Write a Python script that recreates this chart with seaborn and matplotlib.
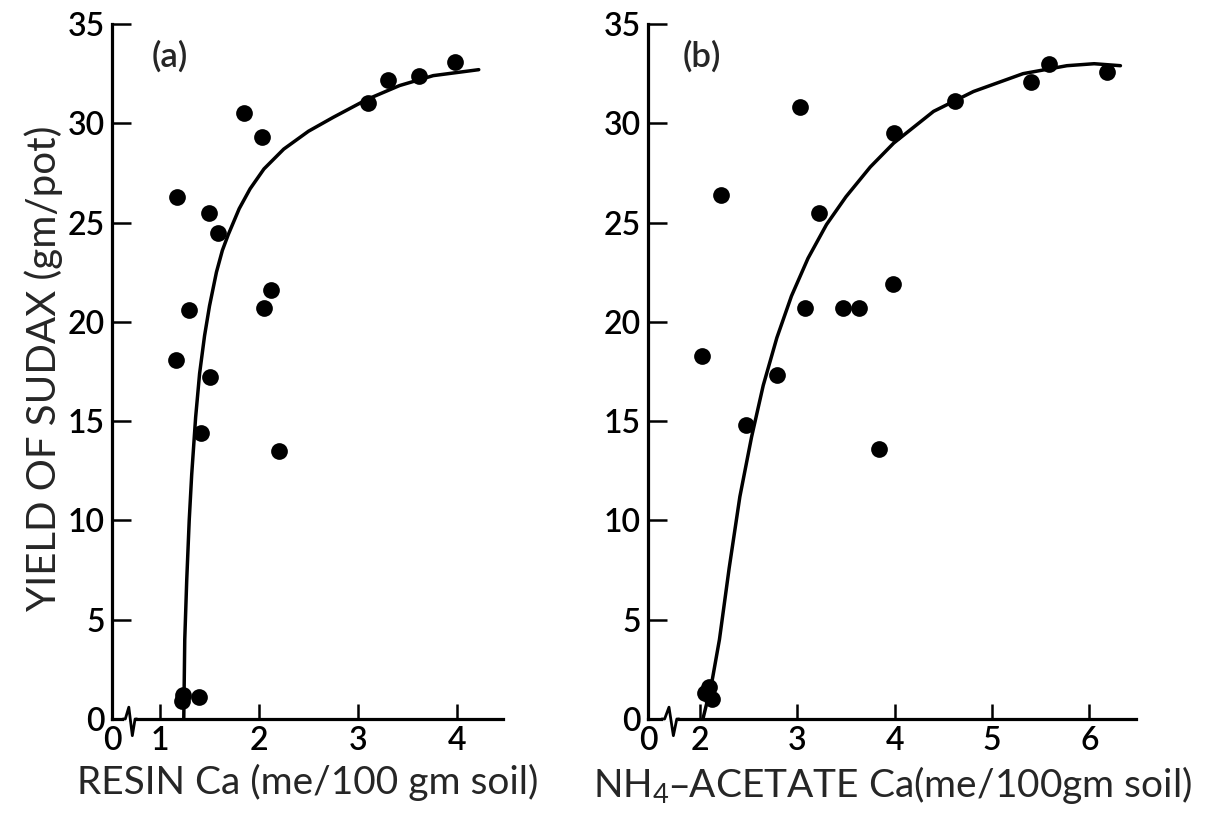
import matplotlib
matplotlib.use("Agg")
import matplotlib.pyplot as plt
import seaborn as sns

# ---- panel (a): resin-extractable Ca ----
resin_ca = [1.16, 1.17, 1.29, 1.41, 1.50, 1.49, 1.59, 1.85, 2.03, 2.05,
            2.12, 2.20, 3.10, 3.30, 3.62, 3.98, 1.235, 1.22, 1.39]
resin_yield = [18.1, 26.3, 20.6, 14.4, 17.2, 25.5, 24.5, 30.5, 29.3, 20.7,
               21.6, 13.5, 31.0, 32.2, 32.4, 33.1, 1.2, 0.9, 1.1]
resin_curve_x = [1.24, 1.245, 1.25, 1.27, 1.295, 1.32, 1.36, 1.40, 1.45,
                 1.50, 1.57, 1.63, 1.69, 1.80, 1.91, 2.05, 2.25, 2.50, 2.75,
                 3.09, 3.42, 3.76, 4.22]
resin_curve_y = [0.0, 2.0, 4.0, 7.0, 10.0, 12.3, 15.2, 17.4, 19.3,
                 20.8, 22.5, 23.6, 24.4, 25.7, 26.7, 27.7, 28.7, 29.6, 30.3,
                 31.2, 31.9, 32.4, 32.7]

# ---- panel (b): NH4-acetate extractable Ca ----
acetate_ca = [2.22, 3.03, 3.22, 3.99, 4.62, 5.40, 5.59, 6.18, 3.08, 3.47,
              3.63, 2.02, 2.79, 2.47, 3.84, 3.98, 2.05, 2.12, 2.09]
acetate_yield = [26.4, 30.8, 25.5, 29.5, 31.1, 32.1, 33.0, 32.6, 20.7, 20.7,
                 20.7, 18.3, 17.3, 14.8, 13.6, 21.9, 1.3, 1.0, 1.6]
acetate_curve_x = [2.03, 2.12, 2.20, 2.30, 2.41, 2.53, 2.65, 2.79, 2.94,
                   3.11, 3.30, 3.50, 3.75, 3.99, 4.40, 4.81, 5.32, 5.77,
                   6.05, 6.32]
acetate_curve_y = [0.0, 1.8, 4.0, 7.6, 11.2, 14.2, 16.8, 19.2, 21.3,
                   23.2, 24.9, 26.3, 27.8, 29.0, 30.6, 31.6, 32.5, 32.9,
                   33.0, 32.9]

y_ticks = [0, 5, 10, 15, 20, 25, 30, 35]

sns.set_style("ticks")
plt.rcParams["font.family"] = ["Lato", "DejaVu Sans"]
plt.rcParams["font.weight"] = "semibold"
plt.rcParams["mathtext.default"] = "regular"

fig = plt.figure(figsize=(12.1, 8.25), dpi=100)
ax_a = fig.add_axes([112 / 1210, 1 - 719 / 825, 391 / 1210, 695 / 825])
ax_b = fig.add_axes([648 / 1210, 1 - 719 / 825, 488 / 1210, 695 / 825])

panels = [
    (ax_a, resin_ca, resin_yield, resin_curve_x, resin_curve_y,
     (0.515, 4.465), [1, 2, 3, 4], "(a)", 0.148,
     "RESIN Ca (me/100 gm soil)"),
    (ax_b, acetate_ca, acetate_yield, acetate_curve_x, acetate_curve_y,
     (1.466, 6.48), [2, 3, 4, 5, 6], "(b)", 0.111,
     r"NH$_4$–ACETATE Ca(me/100gm soil)"),
]

for ax, xs, ys, cx, cy, xlim, xt, tag, tag_x, xlabel in panels:
    sns.lineplot(x=cx, y=cy, ax=ax, color="black", linewidth=2.5,
                 sort=False, estimator=None)
    sns.scatterplot(x=xs, y=ys, ax=ax, color="black", s=145,
                    edgecolor="black", linewidth=0, zorder=3)
    ax.set_xlim(*xlim)
    ax.set_ylim(0, 35)
    sns.despine(ax=ax)
    for side in ("left", "bottom"):
        ax.spines[side].set_linewidth(2.3)
        ax.spines[side].set_color("black")
    ax.set_yticks(y_ticks)
    ax.set_yticklabels([str(v) for v in y_ticks])
    ax.set_xticks(xt)
    ax.set_xticklabels([str(v) for v in xt])
    ax.set_xticks([xlim[0]], minor=True)
    ax.set_xticklabels(["0"], minor=True)
    ax.tick_params(axis="y", direction="in", length=14, width=1.8,
                   labelsize=23, pad=5, colors="black")
    ax.tick_params(axis="x", which="major", direction="in", length=11,
                   width=1.8, labelsize=23, pad=5, colors="black")
    ax.tick_params(axis="x", which="minor", length=0, labelsize=23, pad=5,
                   colors="black")
    ax.text(tag_x, 0.954, tag, transform=ax.transAxes, fontsize=25,
            ha="center", va="center")
    ax.set_xlabel(xlabel, fontsize=28, labelpad=6)
    ax.set_ylabel("")

    # axis break just right of the origin
    ax.plot([0.030, 0.062], [0, 0], transform=ax.transAxes, color="white",
            linewidth=4, clip_on=False, zorder=4, solid_capstyle="butt")
    ax.plot([0.028, 0.034, 0.043, 0.052, 0.059, 0.064],
            [0, 0, 0.017, -0.024, 0, 0], transform=ax.transAxes,
            color="black", linewidth=2.0, clip_on=False, zorder=5)

ax_a.set_ylabel("YIELD OF SUDAX (gm/pot)", fontsize=29)
ax_a.yaxis.set_label_coords(-0.125, 0.505)

fig.savefig("out.png", dpi=100, facecolor="white")
